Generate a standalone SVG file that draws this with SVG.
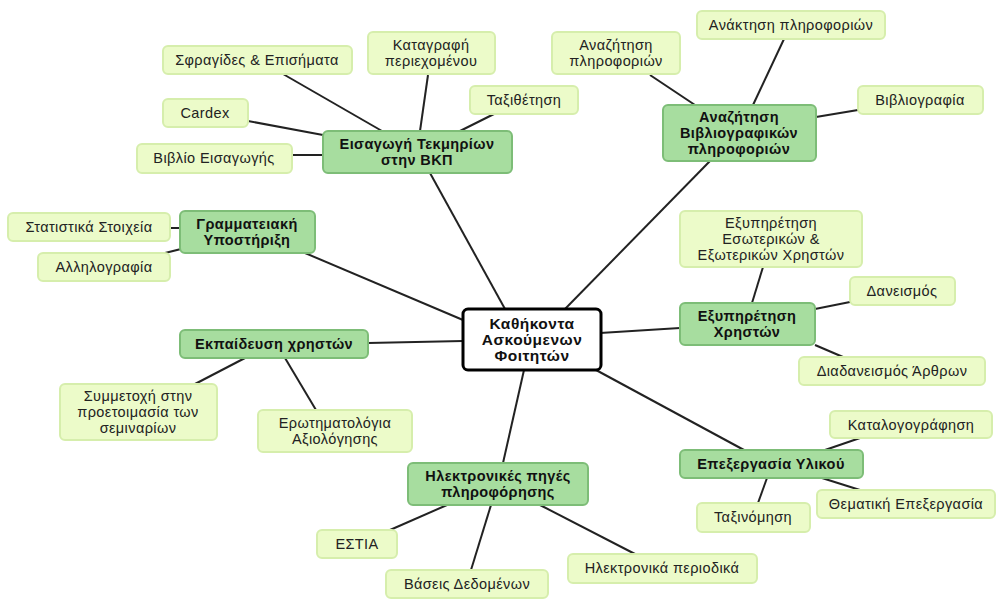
<svg xmlns="http://www.w3.org/2000/svg" width="998" height="599" viewBox="0 0 998 599">
<style>
.l rect{fill:#ecfbc9;stroke:#d6eeac;stroke-width:2}
.d rect{fill:#a7dd9f;stroke:#7dbd77;stroke-width:2}
.c rect{fill:#ffffff;stroke:#000;stroke-width:3}
text{font-family:"Liberation Sans",Arial,sans-serif;font-size:14.5px;letter-spacing:0.4px;fill:#222;text-anchor:middle}
.d text{font-weight:bold;fill:#111}
.c text{font-weight:bold;font-size:15.5px;letter-spacing:0.5px;fill:#111}
#edges line{stroke:#222;stroke-width:2}
</style>
<rect width="998" height="599" fill="#fff"/>
<g id="edges">
<line x1="430" y1="173" x2="505" y2="309"/>
<line x1="283" y1="74" x2="382" y2="131"/>
<line x1="248" y1="121" x2="323" y2="135"/>
<line x1="292" y1="155" x2="323" y2="155"/>
<line x1="428" y1="75" x2="420" y2="131"/>
<line x1="494" y1="114" x2="460" y2="131"/>
<line x1="710" y1="161" x2="565" y2="309"/>
<line x1="650" y1="75" x2="695" y2="105"/>
<line x1="784" y1="39" x2="753" y2="105"/>
<line x1="816" y1="117" x2="858" y2="110"/>
<line x1="305" y1="253" x2="463" y2="320"/>
<line x1="170" y1="228" x2="180" y2="228"/>
<line x1="165" y1="253" x2="181" y2="249"/>
<line x1="368" y1="343" x2="463" y2="341"/>
<line x1="245" y1="358" x2="195" y2="384"/>
<line x1="285" y1="358" x2="316" y2="410"/>
<line x1="600" y1="333" x2="680" y2="328"/>
<line x1="752" y1="303" x2="763" y2="267"/>
<line x1="815" y1="309" x2="850" y2="302"/>
<line x1="815" y1="345" x2="843" y2="357"/>
<line x1="596" y1="370" x2="744" y2="450"/>
<line x1="825" y1="450" x2="860" y2="438"/>
<line x1="822" y1="478" x2="860" y2="490"/>
<line x1="767" y1="478" x2="758" y2="503"/>
<line x1="524" y1="370" x2="503" y2="463"/>
<line x1="447" y1="505" x2="390" y2="530"/>
<line x1="491" y1="505" x2="471" y2="570"/>
<line x1="540" y1="505" x2="635" y2="554"/>
</g>
<g id="center" class="c"><rect x="463" y="309" width="138" height="61" rx="5"/><text x="532" y="329">Καθήκοντα</text><text x="532" y="345">Ασκούμενων</text><text x="532" y="361">Φοιτητών</text></g>
<g id="eisagogi" class="d"><rect x="323" y="131" width="189" height="42" rx="5"/><text x="417" y="149">Εισαγωγή Τεκμηρίων</text><text x="417" y="165">στην ΒΚΠ</text></g>
<g id="sfragides" class="l"><rect x="163" y="46" width="189" height="28" rx="5"/><text x="257" y="65">Σφραγίδες &amp; Επισήματα</text></g>
<g id="cardex" class="l"><rect x="163" y="99" width="85" height="28" rx="5"/><text x="205" y="118">Cardex</text></g>
<g id="vivlio" class="l"><rect x="137" y="144" width="155" height="29" rx="5"/><text x="214" y="163">Βιβλίο Εισαγωγής</text></g>
<g id="katagrafi" class="l"><rect x="368" y="32" width="127" height="42" rx="5"/><text x="431" y="50">Καταγραφή</text><text x="431" y="66">περιεχομένου</text></g>
<g id="taxithetisi" class="l"><rect x="470" y="86" width="108" height="28" rx="5"/><text x="524" y="105">Ταξιθέτηση</text></g>
<g id="anazitisi-vivl" class="d"><rect x="663" y="105" width="153" height="56" rx="5"/><text x="739" y="122">Αναζήτηση</text><text x="739" y="138">Βιβλιογραφικών</text><text x="739" y="154">πληροφοριών</text></g>
<g id="anazitisi-pl" class="l"><rect x="552" y="32" width="128" height="42" rx="5"/><text x="616" y="50">Αναζήτηση</text><text x="616" y="66">πληροφοριών</text></g>
<g id="anaktisi" class="l"><rect x="697" y="11" width="188" height="28" rx="5"/><text x="791" y="30">Ανάκτηση πληροφοριών</text></g>
<g id="vivliografia" class="l"><rect x="858" y="86" width="125" height="28" rx="5"/><text x="920" y="105">Βιβλιογραφία</text></g>
<g id="grammateiaki" class="d"><rect x="180" y="211" width="135" height="42" rx="5"/><text x="247" y="229">Γραμματειακή</text><text x="247" y="245">Υποστήριξη</text></g>
<g id="statistika" class="l"><rect x="8" y="213" width="162" height="28" rx="5"/><text x="89" y="232">Στατιστικά Στοιχεία</text></g>
<g id="allilografia" class="l"><rect x="38" y="253" width="132" height="28" rx="5"/><text x="104" y="272">Αλληλογραφία</text></g>
<g id="ekpaideusi" class="d"><rect x="180" y="330" width="188" height="28" rx="5"/><text x="274" y="349">Εκπαίδευση χρηστών</text></g>
<g id="symmetoxi" class="l"><rect x="60" y="384" width="157" height="56" rx="5"/><text x="138" y="401">Συμμετοχή στην</text><text x="138" y="417">προετοιμασία των</text><text x="138" y="433">σεμιναρίων</text></g>
<g id="erotimatologia" class="l"><rect x="258" y="410" width="154" height="42" rx="5"/><text x="335" y="428">Ερωτηματολόγια</text><text x="335" y="444">Αξιολόγησης</text></g>
<g id="exypiretisi" class="d"><rect x="680" y="303" width="135" height="42" rx="5"/><text x="747" y="321">Εξυπηρέτηση</text><text x="747" y="337">Χρηστών</text></g>
<g id="esoterikon" class="l"><rect x="680" y="211" width="182" height="56" rx="5"/><text x="771" y="228">Εξυπηρέτηση</text><text x="771" y="244">Εσωτερικών &amp;</text><text x="771" y="260">Εξωτερικών Χρηστών</text></g>
<g id="daneismos" class="l"><rect x="850" y="277" width="105" height="28" rx="5"/><text x="902" y="296">Δανεισμός</text></g>
<g id="diadaneismos" class="l"><rect x="799" y="357" width="186" height="28" rx="5"/><text x="892" y="376">Διαδανεισμός Άρθρων</text></g>
<g id="epexergasia" class="d"><rect x="680" y="450" width="183" height="28" rx="5"/><text x="771" y="469">Επεξεργασία Υλικού</text></g>
<g id="katalogografisi" class="l"><rect x="830" y="411" width="162" height="27" rx="5"/><text x="911" y="430">Καταλογογράφηση</text></g>
<g id="thematiki" class="l"><rect x="817" y="490" width="178" height="28" rx="5"/><text x="906" y="509">Θεματική Επεξεργασία</text></g>
<g id="taxinomisi" class="l"><rect x="697" y="503" width="113" height="29" rx="5"/><text x="753" y="522">Ταξινόμηση</text></g>
<g id="ilektronikes" class="d"><rect x="408" y="463" width="180" height="42" rx="5"/><text x="498" y="481">Ηλεκτρονικές πηγές</text><text x="498" y="497">πληροφόρησης</text></g>
<g id="estia" class="l"><rect x="317" y="530" width="80" height="28" rx="5"/><text x="357" y="549">ΕΣΤΙΑ</text></g>
<g id="vaseis" class="l"><rect x="386" y="570" width="162" height="28" rx="5"/><text x="467" y="589">Βάσεις Δεδομένων</text></g>
<g id="periodika" class="l"><rect x="568" y="554" width="189" height="29" rx="5"/><text x="662" y="573">Ηλεκτρονικά περιοδικά</text></g>
</svg>
